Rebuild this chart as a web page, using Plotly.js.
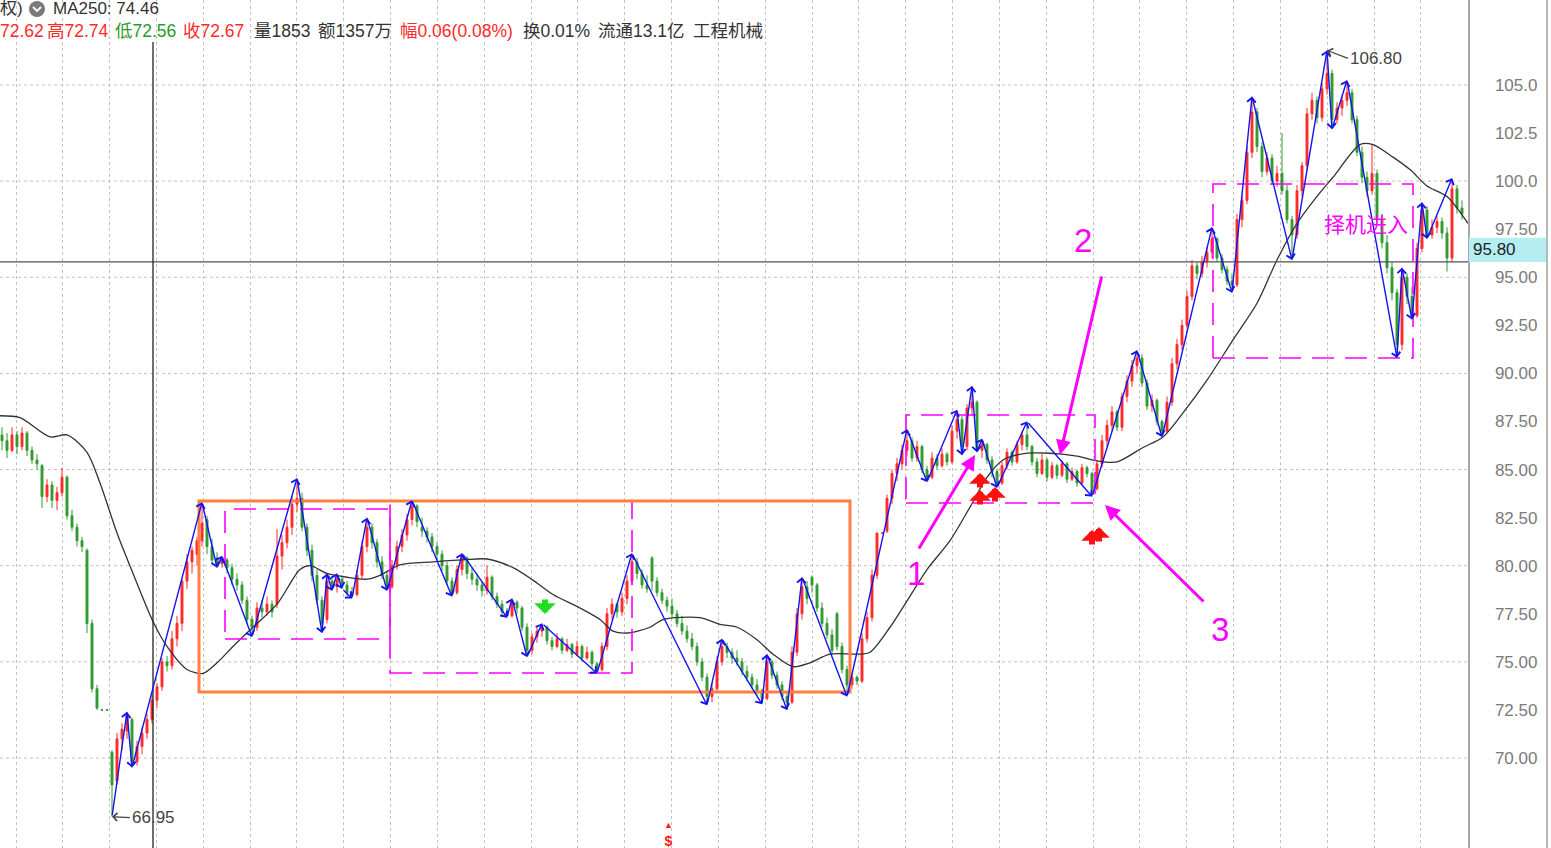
<!DOCTYPE html>
<html><head><meta charset="utf-8">
<script src="https://cdn.plot.ly/plotly-3.0.1.min.js"></script>
<style>html,body{margin:0;padding:0;background:#fff;overflow:hidden}</style>
</head><body><div id="chart" style="width:1551px;height:848px"></div>
<script>
// ---- daily candles (index = trading day on screen) ----
const opens = [86.8,86.5,86.0,86.8,86.2,86.9,86.0,85.5,85.2,83.6,
84.2,83.4,83.8,84.6,82.6,82.0,81.3,80.8,77.0,73.6,
72.5,72.5,70.3,68.8,71.0,71.4,72.0,69.8,70.6,71.3,
72.0,73.0,73.7,75.0,74.8,76.2,77.0,79.2,80.2,80.6,
81.3,82.4,81.0,80.4,80.1,80.3,79.9,79.3,79.0,78.2,
77.2,76.8,77.8,77.6,78.0,78.0,80.5,81.2,82.0,83.2,
83.5,82.0,80.8,79.5,78.2,77.2,79.2,78.9,79.3,79.0,
78.6,78.5,79.5,81.0,82.0,81.2,80.2,79.5,78.9,80.0,
81.0,81.6,82.4,83.1,82.0,81.8,81.5,81.0,80.6,80.0,
79.2,78.6,79.8,80.4,79.6,79.3,79.0,78.7,79.4,78.4,
78.0,77.6,77.4,78.1,77.8,76.8,75.6,76.3,76.6,76.8,
76.1,75.8,76.2,75.6,75.9,75.4,75.8,75.2,75.5,74.9,
74.6,75.8,77.5,78.0,77.6,78.3,79.2,80.2,79.6,79.0,
80.4,79.2,78.6,78.2,77.9,77.5,77.0,76.6,76.2,75.8,
75.0,74.2,73.2,73.6,75.0,75.8,75.5,75.2,75.0,74.5,
74.2,73.8,73.5,73.1,75.0,74.3,73.8,73.2,72.9,75.5,
77.5,78.9,79.4,79.0,77.8,77.0,76.4,77.5,75.8,74.6,
73.8,74.2,74.0,76.2,77.3,79.5,81.7,81.8,83.5,84.8,
85.3,86.0,86.5,85.6,86.2,85.0,84.6,85.6,85.2,85.8,
85.4,87.0,87.6,86.2,88.2,88.5,86.0,86.3,85.5,84.9,
84.3,85.2,85.9,85.4,86.3,86.8,86.2,85.4,84.8,85.5,
84.6,85.2,84.7,85.3,84.5,84.9,84.3,85.1,84.8,84.0,
85.3,86.5,87.3,88.0,87.2,88.8,89.6,90.4,90.8,89.5,
88.3,88.6,87.5,87.0,88.5,90.5,91.5,92.5,94.0,95.6,
95.2,95.8,96.3,97.0,96.0,95.4,94.8,94.6,98.0,99.0,
101.5,103.6,101.8,100.5,101.2,100.0,100.4,99.5,98.0,97.2,
99.5,100.8,103.5,104.2,103.3,104.8,105.6,103.2,103.8,104.2,
104.6,103.2,101.5,100.2,99.5,100.4,98.0,96.8,95.5,94.2,
91.5,95.0,94.0,93.0,96.5,98.5,97.2,97.6,97.9,97.3,
96.0,99.6,98.6];
const highs = [87.2,86.9,87.2,87.0,87.2,87.0,86.2,85.8,85.3,84.5,
84.4,84.1,85.1,84.7,82.9,82.2,81.5,80.9,77.2,73.8,
72.55,72.55,70.4,71.3,71.8,72.4,72.1,70.9,71.6,72.3,
73.3,73.9,75.2,75.3,76.6,77.4,79.3,80.6,81.0,81.5,
83.3,82.6,81.4,80.7,80.5,80.4,80.1,79.6,79.2,78.4,
77.4,78.1,78.2,78.4,78.2,81.9,81.6,82.4,83.6,84.55,
83.8,82.2,81.1,79.8,78.4,79.6,79.4,79.6,79.5,79.2,
78.9,79.8,81.3,82.5,82.2,81.4,80.5,79.7,80.3,81.3,
81.9,82.7,83.4,83.2,82.5,82.0,81.7,81.2,80.8,80.2,
79.4,80.0,80.65,80.5,79.9,79.6,79.2,80.0,79.5,78.6,
78.2,77.8,78.3,78.2,77.9,77.0,76.5,76.8,77.0,76.9,
76.3,76.5,76.3,76.2,76.0,76.1,75.9,75.8,75.6,75.0,
76.0,77.8,78.3,78.1,78.6,79.5,80.65,80.4,79.8,79.5,
80.5,79.4,78.8,78.4,78.3,77.7,77.4,76.9,76.5,76.0,
75.2,74.4,73.9,75.3,76.2,76.0,75.7,75.6,75.2,74.8,
74.4,74.1,73.6,75.4,75.1,74.5,74.0,73.4,75.8,77.8,
79.4,79.2,79.5,79.1,78.1,77.3,76.7,77.6,76.0,74.8,
74.4,74.3,76.5,77.6,79.8,81.7,81.7,83.7,85.0,85.6,
86.3,87.1,86.7,86.5,86.3,85.2,85.9,85.8,86.1,85.9,
87.3,88.1,87.8,88.4,89.35,88.6,86.6,86.4,85.7,85.0,
85.4,86.1,86.0,86.5,87.0,87.5,86.3,85.6,85.8,85.6,
85.4,85.3,85.5,85.4,85.1,85.0,85.3,85.2,84.9,85.5,
86.8,87.6,88.3,88.1,89.0,89.9,90.7,91.2,91.0,89.7,
88.9,88.7,87.6,88.8,90.8,91.8,92.8,94.3,95.9,95.8,
96.1,96.6,97.6,97.1,96.2,95.6,95.2,98.3,99.3,101.8,
104.4,103.8,102.0,101.5,101.4,100.8,102.5,99.8,98.2,99.8,
101.0,103.8,104.6,104.4,105.1,106.8,105.8,104.1,104.5,105.25,
104.8,103.4,101.8,100.5,101.9,100.6,98.3,97.2,95.8,94.4,
95.5,95.2,94.5,96.8,98.9,98.7,98.0,98.2,98.1,97.6,
100.15,99.8,99.0];
const lows = [86.0,85.6,85.9,85.8,86.0,85.7,85.3,85.0,83.0,83.3,
83.0,82.9,83.6,82.4,81.8,81.0,80.7,76.5,73.4,72.5,
72.45,72.45,66.95,68.6,70.4,71.0,69.5,69.6,70.2,71.0,
71.8,72.6,73.5,74.5,74.6,75.8,76.6,78.8,79.6,80.0,
81.0,80.6,80.1,79.9,79.9,79.6,79.0,78.7,78.0,77.0,
76.3,76.6,77.3,77.4,77.3,77.8,79.8,80.9,81.6,82.8,
81.8,80.5,79.2,78.0,76.5,77.0,78.7,78.6,78.8,78.4,
78.3,78.4,79.3,80.7,80.9,79.9,79.3,78.7,78.8,79.8,
80.7,81.3,82.1,82.0,81.5,81.2,80.7,80.3,79.7,79.0,
78.4,78.5,79.5,79.3,79.0,78.7,78.4,78.5,78.2,77.8,
77.4,77.3,77.3,77.5,76.6,75.25,75.4,76.0,76.3,75.9,
75.6,75.7,75.4,75.5,75.2,75.3,75.0,75.1,74.7,74.4,
74.5,75.6,77.2,77.3,77.4,78.0,79.0,79.3,78.8,78.6,
78.7,78.4,78.0,77.6,77.3,76.8,76.4,76.0,75.6,74.8,
74.0,72.75,72.9,73.5,74.8,75.2,74.9,74.8,74.3,74.0,
73.6,73.3,72.8,73.0,74.1,73.6,73.0,72.5,72.8,75.3,
77.2,78.0,78.6,77.6,76.8,76.2,75.4,75.6,74.4,73.2,
73.6,73.8,73.9,76.0,77.1,79.3,81.7,81.7,83.2,84.4,
85.0,85.7,85.4,85.4,84.8,84.35,84.5,85.0,85.1,85.2,
85.3,86.6,85.75,86.0,87.8,85.9,85.6,85.3,84.6,84.05,
84.2,85.0,85.2,85.3,86.0,86.0,85.2,84.6,84.7,84.4,
84.5,84.5,84.6,84.3,84.4,84.1,84.2,84.6,83.6,83.9,
85.1,86.2,87.0,87.0,87.0,88.5,89.3,90.0,89.3,88.1,
88.0,87.3,86.7,86.9,88.3,90.2,91.2,92.3,93.8,94.9,
95.0,95.5,96.0,95.8,95.2,94.6,94.2,94.5,97.6,98.8,
101.2,101.5,100.2,100.3,99.8,99.7,99.3,97.8,95.9,97.0,
99.2,100.6,103.2,103.0,103.1,104.5,102.7,103.0,103.4,103.9,
103.0,101.3,99.9,99.2,99.3,97.8,96.5,95.2,93.8,90.8,
91.2,93.6,92.8,92.9,96.3,97.0,97.0,97.3,97.0,95.3,
95.8,98.3,98.0];
const closes = [86.5,86.0,86.8,86.2,86.9,86.0,85.5,85.3,83.6,84.2,
83.4,83.8,84.6,82.6,82.0,81.3,81.0,77.0,73.6,72.6,
72.5,72.5,68.6,71.0,71.5,72.2,69.8,70.6,71.3,72.0,
73.0,73.7,75.0,74.8,76.2,77.0,79.2,80.2,80.8,81.3,
82.2,81.0,80.3,80.1,80.3,79.9,79.3,79.0,78.2,77.2,
76.8,77.8,77.6,78.0,77.6,80.5,81.2,82.0,83.2,83.5,
82.0,80.8,79.5,78.2,77.0,79.2,78.9,79.3,79.0,78.6,
78.5,79.5,81.0,82.0,81.2,80.2,79.5,78.9,80.0,81.0,
81.6,82.4,83.1,82.3,81.8,81.5,81.0,80.6,80.0,79.2,
78.6,79.8,80.4,79.6,79.3,79.0,78.7,79.4,78.4,78.0,
77.6,77.4,78.1,77.8,76.8,75.6,76.3,76.6,76.8,76.1,
75.8,76.2,75.6,75.9,75.4,75.8,75.2,75.5,74.9,74.6,
75.8,77.5,78.0,77.6,78.3,79.2,80.2,79.6,79.0,78.8,
79.2,78.6,78.2,77.9,77.5,77.0,76.6,76.2,75.8,75.0,
74.2,73.2,73.6,75.0,75.8,75.5,75.2,75.0,74.5,74.2,
73.8,73.5,73.1,75.0,74.3,73.8,73.2,72.9,75.5,77.5,
78.9,78.3,79.0,77.8,77.0,76.4,75.6,75.8,74.6,73.8,
74.2,74.0,76.2,77.3,79.5,81.7,81.7,83.5,84.8,85.3,
86.0,86.5,85.6,86.2,85.0,84.6,85.6,85.2,85.8,85.4,
87.0,87.6,86.2,88.2,88.5,86.0,86.3,85.5,84.9,84.3,
85.2,85.9,85.4,86.3,86.8,86.2,85.4,84.8,85.5,84.6,
85.2,84.7,85.3,84.5,84.9,84.3,85.1,84.8,84.0,85.3,
86.5,87.3,88.0,87.2,88.8,89.6,90.4,90.8,89.5,88.3,
88.6,87.5,87.0,88.5,90.5,91.5,92.5,94.0,95.6,95.2,
95.8,96.3,97.0,96.0,95.4,94.8,94.6,98.0,99.0,101.5,
103.6,101.8,100.5,101.2,100.0,100.4,99.5,98.0,97.2,99.5,
100.8,103.5,104.2,103.3,104.8,105.6,103.2,103.8,104.2,104.6,
103.2,101.5,100.2,99.5,100.4,98.0,96.8,95.5,94.2,91.5,
95.0,94.0,93.0,96.5,98.5,97.2,97.6,97.9,97.3,96.0,
99.6,98.6,98.3];

// ---- MA250 ----
const maIdx = [-0.4,3.6,9.6,13,17,19.6,23,26.2,30.2,33,37,40.2,43,46.2,50.2,55,59.6,61.6,65,69,
73,75.6,79.6,86.2,92.2,97,102.2,106.2,110.2,115.6,119.6,122.2,125,129.6,132.2,139.6,143.6,147,151,154.2,
158.2,161.6,165.6,171,173.6,177.6,180.6,185,189.6,193.6,197,200.2,205,209.6,215,219,223,228.2,232.2,236.2,
241,246.2,251,255,259,263.6,266.2,271.6,274.2,278.2,281.6,285,289,293.2];
const maVal = [87.8,87.7,86.7,86.8,85.9,84.3,81.7,79.6,77.1,75.8,74.6,74.4,74.95,75.8,76.8,78.0,79.8,80.0,79.6,79.4,
79.3,79.5,80.05,80.2,80.3,80.35,79.9,79.25,78.5,77.8,77.2,76.6,76.5,76.8,77.2,77.3,76.95,76.8,76.15,75.4,
74.75,74.95,75.4,75.4,75.5,76.8,78.0,79.8,81.3,83.05,84.6,85.5,85.85,85.85,85.7,85.45,85.4,86.15,86.7,87.95,
89.65,91.75,93.65,95.9,97.8,99.4,100.2,101.9,101.9,101.25,100.6,99.75,99.2,97.8];

// ---- zigzag swing points ----
const zzIdx = [22,25,26,40,43,44,50,59,64,65,66,67,68,70,73,77,82,90,92,101,102,105,108,119,126,141,144,152,153,157,
160,169,181,185,191,192,194,195,196,199,205,218,227,232,242,246,250,258,265,266,269,279,280,282,284,285,290];
const zzVal = [66.95,72.4,69.5,83.3,79.9,80.5,76.3,84.55,76.5,79.6,78.7,79.6,78.8,78.3,82.5,78.7,83.4,78.4,80.65,77.3,
78.3,75.25,77.0,74.4,80.65,72.75,76.2,72.8,75.4,72.5,79.4,73.2,87.1,84.35,88.1,85.75,89.35,85.9,86.6,84.05,
87.5,83.6,91.2,86.7,97.6,94.2,104.4,95.9,106.8,102.7,105.25,90.8,95.5,92.8,98.9,97.0,100.15];

// ---- axis ----
const yTicks = [70,72.5,75,77.5,80,82.5,85,87.5,90,92.5,95,97.5,100,102.5,105];
const yTickText = ['70.00','72.50','75.00','77.50','80.00','82.50','85.00','87.50','90.00','92.50','95.00','97.50','100.0','102.5','105.0'];
const gridY = [70,75,80,85,90,95,100,105];
const lastPrice = 95.80;
const cursorIdx = 30.2;
const lowMark = {idx: 22, val: 66.95, text: '66.95'};
const highMark = {idx: 265, val: 106.8, text: '106.80'};

// ---- header texts ----
const headTokens = ['72.62', '高72.74', '低72.56', '收72.67', '量1853', '额1357万', '幅0.06(0.08%)', '换0.01%', '流通13.1亿', '工程机械'];
const headColors = ['#ff2a2a', '#ff2a2a', '#2a9a2a', '#ff2a2a', '#333333', '#333333', '#ff2a2a', '#333333', '#333333', '#333333'];
const headX = [-2, 45, 113, 181, 252, 316, 398, 521, 596, 691];

// ---- drawn boxes ----
const rangeBoxX = [39.4, 169.6];
const rangeBoxY = [73.43, 83.37];
const dashBoxX0 = [44.6, 77.6, 180.8, 242.2];
const dashBoxX1 = [77.6, 126.0, 218.6, 282.2];
const dashBoxY0 = [76.19, 74.42, 83.26, 90.80];
const dashBoxY1 = [82.95, 83.37, 87.84, 99.85];

// ---- magenta arrows & labels ----
const arrHeadIdx = [194.6, 211.6, 220.6];
const arrHeadVal = [85.76, 85.76, 83.16];
const arrTailIdx = [183.2, 220.0, 240.6];
const arrTailVal = [80.82, 95.12, 78.06];
const numLabels = ['1', '2', '3'];
const numIdx = [182.8, 216.2, 243.6];
const numVal = [79.62, 96.89, 76.66];
const noteText = '择机进入';
const noteIdx = 272.8, noteVal = 97.82;

// ---- signal arrows ----
const buyIdx = [195.6, 195.6, 198.6, 218.0, 219.4];
const buyVal = [84.82, 83.94, 84.10, 81.86, 82.02];
const sellIdx = [108.6];
const sellVal = [77.49];
const dollarIdx = 133.2;

const W = 1551, H = 848, PW = 1468;
const px = v => v / PW;
const py = v => 1 - v / H;
const FONT = 'Liberation Sans, Arial, Noto Sans CJK SC, sans-serif';
const MAG = '#ff00ff';

const traces = [
  {type: 'candlestick', x: closes.map((_, i) => i), open: opens, high: highs, low: lows, close: closes,
   increasing: {line: {color: '#ff2a2a', width: 1}, fillcolor: '#ff2a2a'},
   decreasing: {line: {color: '#2f9a2f', width: 1}, fillcolor: '#2f9a2f'},
   whiskerwidth: 0, hoverinfo: 'skip', showlegend: false},
  {type: 'scatter', mode: 'lines', x: maIdx, y: maVal,
   line: {color: '#333333', width: 1.3, shape: 'spline', smoothing: 0.8}, hoverinfo: 'skip', showlegend: false}
];

const shapes = [];
gridY.forEach(v => shapes.push({type: 'line', xref: 'paper', x0: 0, x1: 1, yref: 'y', y0: v, y1: v,
  line: {color: '#c2c2c2', width: 1, dash: 'dot'}, layer: 'below'}));
shapes.push({type: 'line', xref: 'paper', x0: 0, x1: 1, yref: 'y', y0: lastPrice, y1: lastPrice,
  line: {color: '#505050', width: 1.3}});
shapes.push({type: 'line', xref: 'x', x0: cursorIdx, x1: cursorIdx, yref: 'paper', y0: 0, y1: py(42),
  line: {color: '#222', width: 1.3}});
shapes.push({type: 'line', xref: 'paper', x0: px(1547), x1: px(1547), yref: 'paper', y0: 0, y1: 1,
  line: {color: '#a0a0a0', width: 1.5}});
shapes.push({type: 'rect', xref: 'paper', x0: px(1469), x1: px(1546), yref: 'y', y0: lastPrice, y1: lastPrice + 1.25,
  fillcolor: '#b4eef2', line: {width: 0}});
for (let k = 0; k < dashBoxX0.length; k++) {
  shapes.push({type: 'rect', xref: 'x', yref: 'y', x0: dashBoxX0[k], x1: dashBoxX1[k], y0: dashBoxY0[k], y1: dashBoxY1[k],
    line: {color: MAG, width: 1.6, dash: '22px,11px'}});
}
shapes.push({type: 'rect', xref: 'x', yref: 'y', x0: rangeBoxX[0], x1: rangeBoxX[1], y0: rangeBoxY[0], y1: rangeBoxY[1],
  line: {color: '#ff8040', width: 3}});
// header icon
shapes.push({type: 'circle', xref: 'paper', yref: 'paper', xsizemode: 'pixel', ysizemode: 'pixel',
  xanchor: px(37), yanchor: py(9), x0: -8, x1: 8, y0: -8, y1: 8, fillcolor: '#7a7a7a', line: {width: 0}});
shapes.push({type: 'path', xref: 'paper', yref: 'paper', xsizemode: 'pixel', ysizemode: 'pixel',
  xanchor: px(37), yanchor: py(9), path: 'M -4 2 L 0 -2 L 4 2', line: {color: '#ffffff', width: 1.8}});

const ann = [];
for (let k = 1; k < zzIdx.length; k++) {
  ann.push({x: zzIdx[k], y: zzVal[k], ax: zzIdx[k - 1], ay: zzVal[k - 1], axref: 'x', ayref: 'y', xref: 'x', yref: 'y',
    text: '', showarrow: true, arrowhead: 4, arrowsize: 1.2, arrowwidth: 1.4, arrowcolor: '#1414ee', standoff: 0});
}
for (let k = 0; k < arrHeadIdx.length; k++) {
  ann.push({x: arrHeadIdx[k], y: arrHeadVal[k], ax: arrTailIdx[k], ay: arrTailVal[k], axref: 'x', ayref: 'y',
    text: '', showarrow: true, arrowhead: 2, arrowsize: 1, arrowwidth: 3, arrowcolor: MAG});
  ann.push({x: numIdx[k], y: numVal[k], text: numLabels[k], showarrow: false,
    font: {family: FONT, size: 33, color: MAG}});
}
ann.push({x: noteIdx, y: noteVal, text: noteText, showarrow: false, font: {family: 'Noto Sans CJK SC', size: 21, color: MAG}});
buyIdx.forEach((v, k) => ann.push({x: v, y: buyVal[k], ax: 0, ay: 16, text: '', showarrow: true,
  arrowhead: 1, arrowsize: 0.6, arrowwidth: 6, arrowcolor: '#ff1010', standoff: 0}));
sellIdx.forEach((v, k) => ann.push({x: v, y: sellVal[k], ax: 0, ay: -16, text: '', showarrow: true,
  arrowhead: 1, arrowsize: 0.6, arrowwidth: 6, arrowcolor: '#22dd22', standoff: 0}));
ann.push({x: dollarIdx, y: 0, yref: 'paper', yanchor: 'bottom', yshift: -3,
  text: '<span style="font-size:9px">▲</span><br><b>$</b>', showarrow: false,
  font: {family: FONT, size: 14, color: '#ff1a1a'}});
ann.push({x: lowMark.idx, y: lowMark.val, text: lowMark.text, showarrow: true, ax: 18, ay: 1, xanchor: 'left',
  arrowhead: 4, arrowsize: 1.3, arrowwidth: 1.2, arrowcolor: '#444', standoff: 0, font: {family: FONT, size: 17, color: '#444'}});
ann.push({x: highMark.idx, y: highMark.val, text: highMark.text, showarrow: true, ax: 21, ay: 8, xanchor: 'left',
  arrowhead: 4, arrowsize: 1.3, arrowwidth: 1.2, arrowcolor: '#444', standoff: 0, font: {family: FONT, size: 17, color: '#444'}});
// price label
ann.push({xref: 'paper', x: px(1471), xanchor: 'left', y: lastPrice + 0.62, text: '95.80', showarrow: false,
  font: {family: FONT, size: 17, color: '#222'}});
// header
ann.push({xref: 'paper', yref: 'paper', x: px(-2), y: py(9), xanchor: 'left', yanchor: 'middle', showarrow: false,
  text: '权)', font: {family: FONT, size: 17, color: '#333'}});
ann.push({xref: 'paper', yref: 'paper', x: px(51), y: py(9), xanchor: 'left', yanchor: 'middle', showarrow: false,
  text: 'MA250: 74.46', font: {family: FONT, size: 17, color: '#333'}});
headTokens.forEach((t, k) => ann.push({xref: 'paper', yref: 'paper', x: px(headX[k]), y: py(31), xanchor: 'left',
  yanchor: 'middle', showarrow: false, text: t, font: {family: FONT, size: 17.5, color: headColors[k]}}));

const layout = {
  width: W, height: H, margin: {l: 0, r: W - PW, t: 0, b: 0}, paper_bgcolor: '#fff', plot_bgcolor: '#fff',
  showlegend: false, boxgap: 0.45,
  xaxis: {type: 'linear', range: [-0.4, 293.2], rangeslider: {visible: false}, showticklabels: false, ticks: '',
    showgrid: true, tick0: 2.8, dtick: 9.366, gridcolor: '#c2c2c2', griddash: 'dot', gridwidth: 1, zeroline: false, fixedrange: true},
  yaxis: {side: 'right', range: [65.32, 109.42], tickvals: yTicks, ticktext: yTickText, showgrid: false, zeroline: false,
    showline: true, linecolor: '#a8a8a8', linewidth: 1.5, ticks: '', ticklabelstandoff: 22,
    tickfont: {family: FONT, size: 17, color: '#7a7a7a'}, fixedrange: true},
  shapes: shapes, annotations: ann
};
Plotly.newPlot('chart', traces, layout, {staticPlot: true, displayModeBar: false});
</script></body></html>
